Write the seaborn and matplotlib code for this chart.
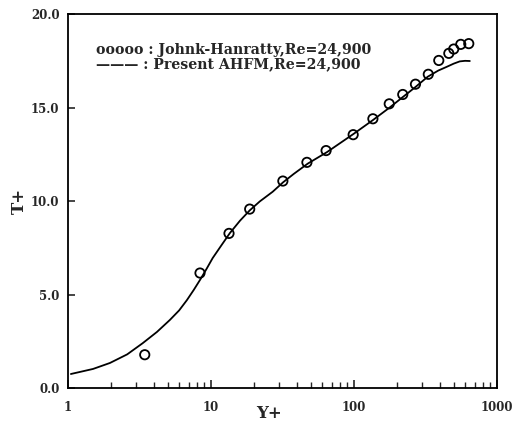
import numpy as np
import pandas as pd
import matplotlib
matplotlib.use("Agg")
import matplotlib.pyplot as plt
import seaborn as sns

# Experimental data (Johnk-Hanratty, Re=24,900)
exp_y = [3.45, 8.4, 13.4, 18.7, 31.9, 47, 64, 99, 136, 177, 220, 270, 332, 393, 462, 500, 560, 637]
exp_t = [1.78, 6.15, 8.27, 9.57, 11.07, 12.07, 12.7, 13.55, 14.4, 15.2, 15.7, 16.25, 16.78, 17.52, 17.9, 18.13, 18.38, 18.42]

# Model curve (Present AHFM, Re=24,900)
mod_y = [1.05, 1.5, 1.97, 2.6, 3.34, 4.2, 5.17, 6.0, 6.8, 7.6, 8.4, 9.3, 10.3, 11.9, 13.6, 16.0, 18.7, 22.0, 27.1, 32.0, 38.0, 47.6, 65, 100, 136, 178, 220, 270, 329, 390, 447, 500, 551, 600, 648]
mod_t = [0.75, 1.02, 1.34, 1.8, 2.4, 3.0, 3.64, 4.15, 4.7, 5.25, 5.78, 6.35, 6.95, 7.65, 8.29, 8.95, 9.5, 9.98, 10.5, 11.0, 11.45, 12.0, 12.62, 13.6, 14.33, 15.0, 15.56, 16.1, 16.65, 16.98, 17.18, 17.35, 17.47, 17.5, 17.49]

x_ticks = [1, 10, 100, 1000]
x_tick_labels = ["1", "10", "100", "1000"]
y_ticks = [0, 5, 10, 15, 20]
y_tick_labels = ["0.0", "5.0", "10.0", "15.0", "20.0"]

label_exp = "ooooo : Johnk-Hanratty,Re=24,900"
label_mod = "——— : Present AHFM,Re=24,900"

sns.set_style("ticks")
plt.rcParams['font.family'] = ['DejaVu Serif']

fig = plt.figure(figsize=(5.18, 4.23), dpi=100)
ax = fig.add_axes([0.131, 0.0827, 0.828, 0.884])

df_mod = pd.DataFrame({"Y": mod_y, "T": mod_t})
df_exp = pd.DataFrame({"Y": exp_y, "T": exp_t})

sns.lineplot(data=df_mod, x="Y", y="T", ax=ax, color="black", linewidth=1.3, sort=False)
sns.scatterplot(data=df_exp, x="Y", y="T", ax=ax, marker="o", s=45,
                facecolor="none", edgecolor="black", linewidth=1.3, zorder=3)

ax.set_xscale("log")
ax.set_xlim(1, 1000)
ax.set_ylim(0, 20)

ax.set_xticks(x_ticks)
ax.set_xticklabels(x_tick_labels, fontsize=8.5, fontweight="bold")
ax.set_yticks(y_ticks)
ax.set_yticklabels(y_tick_labels, fontsize=8.5, fontweight="bold")
ax.xaxis.set_minor_locator(matplotlib.ticker.LogLocator(base=10, subs=np.arange(2, 10)))
ax.xaxis.set_minor_formatter(matplotlib.ticker.NullFormatter())
ax.tick_params(axis="x", which="major", direction="in", length=6, width=1.2, pad=9, top=False)
ax.tick_params(axis="x", which="minor", direction="in", length=4, width=1.0, top=False)
ax.tick_params(axis="y", which="major", direction="in", length=5, width=1.2, pad=6, right=False)
ax.tick_params(axis="y", which="minor", left=False, right=False)

for s in ax.spines.values():
    s.set_linewidth(1.3)
    s.set_color("black")

ax.set_xlabel("Y+", fontsize=12, fontweight="bold", va="center")
ax.xaxis.set_label_coords(0.47, -0.067)
ax.set_ylabel("T+", fontsize=12, fontweight="bold", va="center")
ax.yaxis.set_label_coords(-0.112, 0.50)

ax.text(0.065, 0.905, label_exp, transform=ax.transAxes, fontsize=10.2, fontweight="bold", va="center", ha="left")
ax.text(0.065, 0.865, label_mod, transform=ax.transAxes, fontsize=10.2, fontweight="bold", va="center", ha="left")

fig.savefig("out.png", dpi=100)
